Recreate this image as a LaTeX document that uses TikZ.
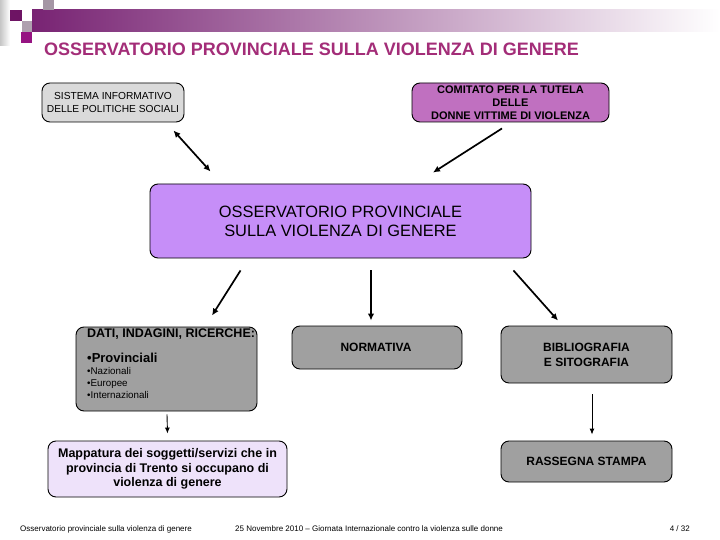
\documentclass[tikz,border=0pt]{standalone}
\usepackage{fontspec}
\setmainfont{Liberation Sans}
\usetikzlibrary{calc,arrows.meta}
\definecolor{titlec}{RGB}{163,45,120}
\definecolor{bandc}{RGB}{120,35,115}
\definecolor{sisc}{RGB}{218,218,218}
\definecolor{comc}{RGB}{192,112,192}
\definecolor{cenc}{RGB}{198,142,248}
\definecolor{grayc}{RGB}{160,160,160}
\definecolor{mapc}{RGB}{238,226,250}
\definecolor{sq1}{RGB}{110,20,100}
\definecolor{sq2}{RGB}{175,160,175}
\definecolor{sq3}{RGB}{150,20,130}
\definecolor{sq4}{RGB}{165,150,165}
\begin{document}
\begin{tikzpicture}[x=1pt,y=-1pt,
  box/.style={draw=black,line width=0.9pt,rounded corners=8pt,inner sep=0pt,align=center,anchor=center},
  arr/.style={line width=1.7pt,-{Latex[length=7pt,width=6.5pt]}},
  dblarr/.style={line width=1.7pt,{Latex[length=7pt,width=6.5pt]}-{Latex[length=7pt,width=6.5pt]}},
  thinarr/.style={line width=0.9pt,-{Latex[length=6pt,width=5pt]}},
  foot/.style={font=\fontsize{8}{9}\selectfont,anchor=base west,inner sep=0pt}]
\useasboundingbox (0,0) rectangle (720,540);
\fill[white] (0,0) rectangle (720,540);
% header decoration
\shade[left color=gray!45,right color=white] (0,0) rectangle (10,46);
\shade[left color=bandc,right color=white] (32,10) rectangle (720,32);
\fill[sq1] (10,10) rectangle (22,21);
\fill[sq4] (43,0) rectangle (54,10);
\fill[sq2] (22,21) rectangle (32,32);
\fill[sq3] (21,32) rectangle (32,43);
% title
\node[anchor=base west,inner sep=0pt,text=titlec,font=\fontsize{18}{20}\selectfont\bfseries] (title) at (44,56) {OSSERVATORIO PROVINCIALE SULLA VIOLENZA DI GENERE};
% boxes
\node[box,fill=sisc,minimum width=142pt,minimum height=39pt,font=\fontsize{10.2}{13}\selectfont] (sis) at (113,102.5) {SISTEMA INFORMATIVO\\DELLE POLITICHE SOCIALI};
\node[box,fill=comc,minimum width=197pt,minimum height=39pt,font=\fontsize{11}{13}\selectfont\bfseries] (com) at (510.5,102.5) {COMITATO PER LA TUTELA\\DELLE\\DONNE VITTIME DI VIOLENZA};
\node[box,fill=cenc,minimum width=381pt,minimum height=74pt,font=\fontsize{16.4}{19}\selectfont] (cen) at (340.5,221) {OSSERVATORIO PROVINCIALE\\SULLA VIOLENZA DI GENERE};
\node[box,fill=grayc,minimum width=181pt,minimum height=84pt] (dati) at (166.5,369) {};
\node[anchor=base west,inner sep=0pt,font=\fontsize{12.5}{14}\selectfont\bfseries] (d1) at (87,337) {DATI, INDAGINI, RICERCHE:};
\node[anchor=base west,inner sep=0pt,font=\fontsize{13}{15}\selectfont\bfseries] (d2) at (87,362) {•Provinciali};
\node[anchor=base west,inner sep=0pt,font=\fontsize{9.8}{11}\selectfont] (d3) at (87,374.5) {•Nazionali};
\node[anchor=base west,inner sep=0pt,font=\fontsize{9.8}{11}\selectfont] (d4) at (87,386.5) {•Europee};
\node[anchor=base west,inner sep=0pt,font=\fontsize{9.8}{11}\selectfont] (d5) at (87,398.5) {•Internazionali};
\node[box,fill=grayc,minimum width=170pt,minimum height=43pt] (norm) at (377,347.5) {};
\node[font=\fontsize{12}{13}\selectfont\bfseries,inner sep=0pt] (normt) at (376,347) {NORMATIVA};
\node[box,fill=grayc,minimum width=171pt,minimum height=57pt,font=\fontsize{12}{15}\selectfont\bfseries] (bib) at (586.5,354.5) {BIBLIOGRAFIA\\E SITOGRAFIA};
\node[box,fill=mapc,minimum width=239pt,minimum height=56pt,font=\fontsize{12.5}{14.5}\selectfont\bfseries] (map) at (167.5,469) {Mappatura dei soggetti/servizi che in\\provincia di Trento si occupano di\\violenza di genere};
\node[box,fill=grayc,minimum width=171pt,minimum height=41pt,font=\fontsize{12}{13}\selectfont\bfseries] (ras) at (586.5,461.5) {RASSEGNA STAMPA};
% connectors
\draw[dblarr] ($(sis.south east)+(-11,8)$) -- ($(cen.north west)+(61,-12)$);
\draw[arr] ($(com.south)+(-8.5,6)$) -- ($(cen.north)+(92.5,-11)$);
\draw[arr] ($(cen.south west)+(91,12)$) -- ($(dati.north)+(45.5,-11)$);
\draw[arr] ($(cen.south)+(30.5,12)$) -- ($(norm.north)+(-6,-5)$);
\draw[arr] ($(cen.south east)+(-18,12)$) -- ($(bib.north)+(-28.5,-5)$);
\draw[thinarr] ($(dati.south)+(0.5,3)$) -- ($(map.north)+(0,-7)$);
\draw[thinarr] ($(bib.south)+(5.5,11)$) -- ($(ras.north)+(5.5,-6)$);
% footer
\node[foot] (f1) at (20,531) {Osservatorio provinciale sulla violenza di genere};
\node[foot] (f2) at (235,531) {25 Novembre 2010 – Giornata Internazionale contro la violenza sulle donne};
\node[foot,anchor=base east] (f3) at (690,531) {4 / 32};
\end{tikzpicture}
\end{document}
